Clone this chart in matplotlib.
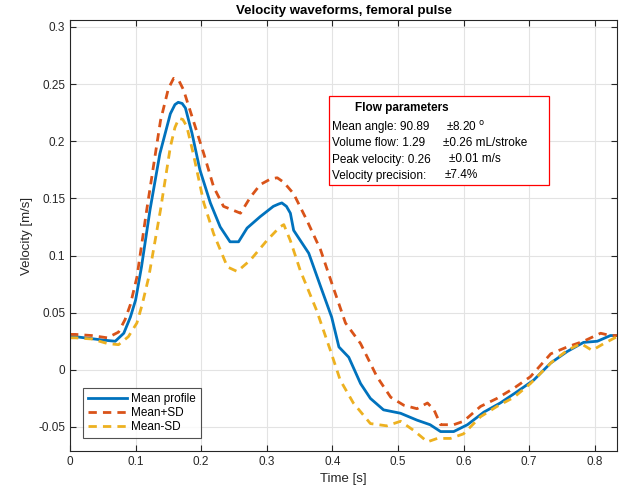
import matplotlib
matplotlib.use("Agg")
import matplotlib.pyplot as plt
from matplotlib.patches import Rectangle

plt.rcParams['font.family'] = ['Liberation Sans', 'DejaVu Sans']

# mean profile
t_mean = [0.0, 0.008, 0.051, 0.069, 0.082, 0.092, 0.1, 0.109, 0.122, 0.137, 0.153, 0.16, 0.165, 0.171, 0.176,
          0.186, 0.198, 0.214, 0.229, 0.244, 0.257, 0.27, 0.29, 0.31, 0.318, 0.323, 0.33, 0.336, 0.341, 0.364,
          0.382, 0.399, 0.41, 0.425, 0.443, 0.458, 0.478, 0.504, 0.529, 0.549, 0.565, 0.585, 0.606,
          0.631, 0.656, 0.682, 0.707, 0.733, 0.758, 0.783, 0.804, 0.824, 0.834]
v_mean = [0.029, 0.029, 0.026, 0.025, 0.032, 0.046, 0.061, 0.090, 0.140, 0.189, 0.224, 0.232, 0.234, 0.233, 0.229,
          0.207, 0.175, 0.146, 0.125, 0.112, 0.112, 0.124, 0.134, 0.143, 0.145, 0.146, 0.143, 0.137, 0.122, 0.102,
          0.073, 0.046, 0.020, 0.011, -0.012, -0.025, -0.035, -0.038, -0.044, -0.048, -0.054, -0.054, -0.048,
          -0.037, -0.029, -0.019, -0.009, 0.006, 0.016, 0.024, 0.025, 0.030, 0.030]

# mean + SD
t_plus = [0.0, 0.008, 0.033, 0.057, 0.074, 0.084, 0.092, 0.102, 0.117, 0.138, 0.15, 0.158, 0.166, 0.173, 0.188,
          0.204, 0.219, 0.234, 0.26, 0.275, 0.29, 0.306, 0.316, 0.326, 0.341, 0.361, 0.382, 0.399, 0.42,
          0.443, 0.468, 0.489, 0.509, 0.529, 0.545, 0.555, 0.565, 0.585, 0.6, 0.626, 0.651, 0.677,
          0.702, 0.733, 0.758, 0.783, 0.809, 0.824, 0.834]
v_plus = [0.031, 0.031, 0.030, 0.028, 0.033, 0.044, 0.057, 0.081, 0.140, 0.218, 0.246, 0.255, 0.253, 0.245, 0.218,
          0.189, 0.160, 0.143, 0.137, 0.151, 0.162, 0.167, 0.168, 0.164, 0.154, 0.131, 0.105, 0.076, 0.041,
          0.023, -0.006, -0.024, -0.031, -0.034, -0.029, -0.035, -0.048, -0.048, -0.045, -0.032, -0.025, -0.016,
          -0.006, 0.014, 0.020, 0.025, 0.032, 0.030, 0.030]

# mean - SD
t_minus = [0.0, 0.008, 0.033, 0.057, 0.074, 0.089, 0.102, 0.11, 0.12, 0.138, 0.153, 0.16, 0.166, 0.172, 0.178,
           0.188, 0.204, 0.219, 0.24, 0.255, 0.275, 0.3, 0.32, 0.326, 0.336, 0.351, 0.376, 0.397,
           0.412, 0.432, 0.458, 0.483, 0.504, 0.524, 0.545, 0.56, 0.58, 0.6, 0.626, 0.651, 0.677,
           0.702, 0.733, 0.758, 0.779, 0.796, 0.814, 0.834]
v_minus = [0.028, 0.028, 0.027, 0.023, 0.022, 0.029, 0.041, 0.057, 0.081, 0.140, 0.195, 0.212, 0.220, 0.219, 0.213,
           0.189, 0.146, 0.119, 0.090, 0.086, 0.096, 0.113, 0.125, 0.127, 0.113, 0.087, 0.052, 0.017,
           -0.009, -0.029, -0.047, -0.049, -0.045, -0.053, -0.063, -0.060, -0.060, -0.056, -0.041, -0.032, -0.024,
           -0.012, 0.006, 0.017, 0.023, 0.017, 0.023, 0.029]

param_names = ["Mean angle: 90.89", "Volume flow: 1.29", "Peak velocity: 0.26", "Velocity precision:"]
param_sd = ["\u00b18.20 $^{\\mathrm{o}}$", "\u00b10.26 mL/stroke", "\u00b10.01 m/s", "\u00b17.4%"]

fig = plt.figure(figsize=(6.29, 4.93), dpi=100)
ax = fig.add_axes([70 / 629, 1 - 451 / 493, 547 / 629, 431 / 493])

ax.plot(t_mean, v_mean, color="#0072BD", lw=2, label="Mean profile")
ax.plot(t_plus, v_plus, color="#D95319", lw=2, ls=(0, (3, 2.2)), label="Mean+SD")
ax.plot(t_minus, v_minus, color="#EDB120", lw=2, ls=(0, (3, 2.2)), label="Mean-SD")

ax.set_xlim(0, 0.834)
ax.set_ylim(-0.071, 0.306)
ax.set_xticks([0, 0.1, 0.2, 0.3, 0.4, 0.5, 0.6, 0.7, 0.8])
ax.set_xticklabels(["0", "0.1", "0.2", "0.3", "0.4", "0.5", "0.6", "0.7", "0.8"])
ax.set_yticks([-0.05, 0, 0.05, 0.1, 0.15, 0.2, 0.25, 0.3])
ax.set_yticklabels(["-0.05", "0", "0.05", "0.1", "0.15", "0.2", "0.25", "0.3"])
ax.grid(True, color="#e3e3e3", lw=0.8)
ax.set_axisbelow(True)
ax.tick_params(direction="in", length=4, labelsize=8.5, colors="#262626", top=True, right=True)
for s in ax.spines.values():
    s.set_color("#262626")
    s.set_linewidth(0.8)

ax.set_xlabel("Time [s]", fontsize=9.5, color="#262626")
ax.set_ylabel("Velocity [m/s]", fontsize=9.5, color="#262626")
ax.set_title("Velocity waveforms, femoral pulse", fontsize=9.5, fontweight="bold", pad=4)


# pixel -> axes fraction
def fx(px):
    return (px - 70) / 547


def fy(py):
    return 1 - (py - 20) / 431


leg = ax.legend(loc="lower left", bbox_to_anchor=(fx(82.7), fy(438.3)), borderaxespad=0,
                fontsize=8.5, frameon=True, fancybox=False, edgecolor="#262626",
                handlelength=3.3, handletextpad=0.3, borderpad=0.45, labelspacing=0.15)
leg.get_frame().set_linewidth(0.8)

ax.add_patch(Rectangle((fx(329), fy(185)), fx(549) - fx(329), fy(96) - fy(185),
                       transform=ax.transAxes, facecolor="white", edgecolor="#ff0000",
                       lw=0.9, zorder=5))
ax.text(fx(355), fy(108), "Flow parameters", transform=ax.transAxes, fontsize=8.5,
        fontweight="bold", va="center", zorder=6)
rows_y = [127, 143.3, 159.5, 175.5]
sd_x = [445.7, 443.3, 449, 444.3]
for name, sd, py, sx in zip(param_names, param_sd, rows_y, sd_x):
    ax.text(fx(331.5), fy(py), name, transform=ax.transAxes, fontsize=8.5, va="center", zorder=6)
    ax.text(fx(sx), fy(py), sd, transform=ax.transAxes, fontsize=8.5, va="center", zorder=6)

fig.savefig("out.png", dpi=100)
